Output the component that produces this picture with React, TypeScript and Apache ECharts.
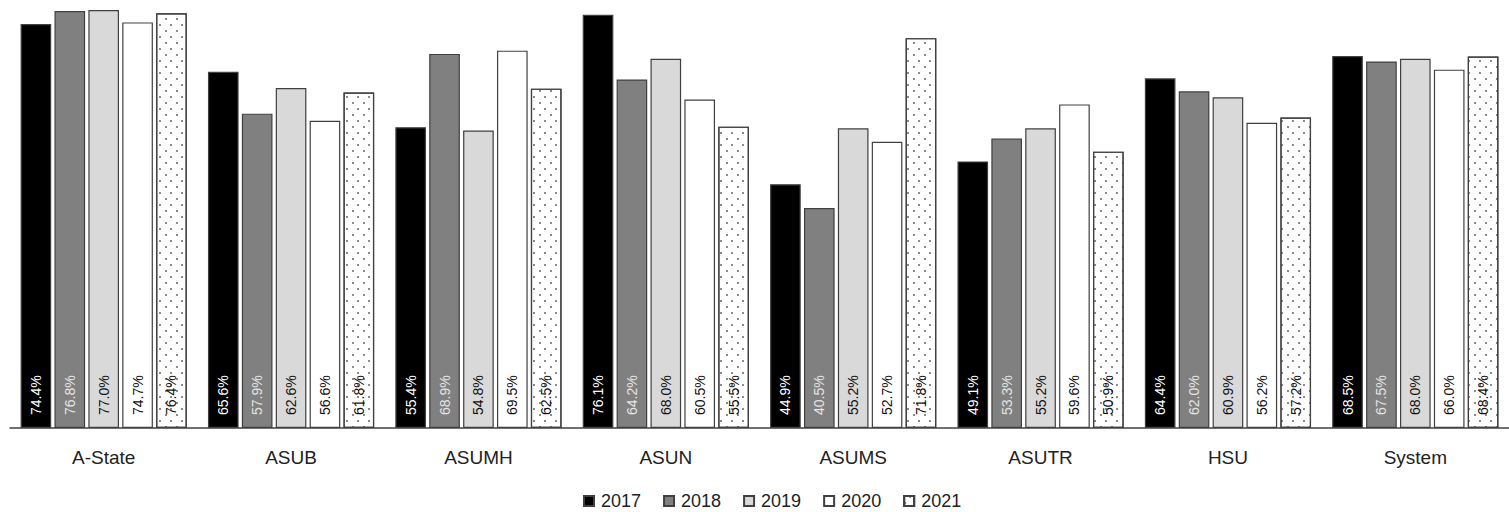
import React, { useEffect, useRef } from "react";
import * as echarts from "echarts";

const categories = ["A-State", "ASUB", "ASUMH", "ASUN", "ASUMS", "ASUTR", "HSU", "System"];
const years = ["2017", "2018", "2019", "2020", "2021"];
const v2017 = [74.4, 65.6, 55.4, 76.1, 44.9, 49.1, 64.4, 68.5];
const v2018 = [76.8, 57.9, 68.9, 64.2, 40.5, 53.3, 62.0, 67.5];
const v2019 = [77.0, 62.6, 54.8, 68.0, 55.2, 55.2, 60.9, 68.0];
const v2020 = [74.7, 56.6, 69.5, 60.5, 52.7, 59.6, 56.2, 66.0];
const v2021 = [76.4, 61.8, 62.5, 55.5, 71.8, 50.9, 57.2, 68.4];

const FONT = "Liberation Sans";

export default function App() {
  const ref = useRef<HTMLDivElement>(null);
  useEffect(() => {
    if (!ref.current) return;
    const chart = echarts.init(ref.current, undefined, { renderer: "svg" });
    const values = [v2017, v2018, v2019, v2020, v2021];
    const fills = ["#000000", "#808080", "#d9d9d9", "#ffffff", "#ffffff"];
    const labelColors = ["#ffffff", "#e4e4e4", "#111111", "#111111", "#111111"];
    const series = years.map((y, i) => ({
      name: y,
      type: "bar",
      data: values[i],
      barGap: "10.6%",
      barCategoryGap: "11.3%",
      itemStyle: {
        color: fills[i],
        borderColor: "#404040",
        borderWidth: 1.2,
        ...(i === 4
          ? {
              decal: {
                symbol: "rect",
                symbolSize: 0.7,
                color: "#222222",
                backgroundColor: "#ffffff",
                dashArrayX: [
                  [2, 9],
                  [0, 5, 2, 4],
                ],
                dashArrayY: [2, 4],
                rotation: 0,
              },
            }
          : {}),
      },
      label: {
        show: true,
        position: "insideBottom",
        distance: 13,
        rotate: 90,
        align: "left",
        verticalAlign: "middle",
        color: labelColors[i],
        fontFamily: FONT,
        fontSize: 14,
        formatter: (p: any) => Number(p.value).toFixed(1) + "%",
      },
    }));
    chart.setOption({
      animation: false,
      backgroundColor: "#ffffff",
      grid: { left: 10, top: 4.5, width: 1517.6, height: 423.5 },
      xAxis: {
        type: "category",
        data: categories,
        axisLine: { show: true, lineStyle: { color: "#404040", width: 1.5 } },
        axisTick: { show: false },
        axisLabel: { color: "#222222", fontFamily: FONT, fontSize: 19, margin: 20 },
      },
      yAxis: {
        type: "value",
        min: 0,
        max: 78,
        show: false,
        splitLine: { show: false },
      },
      legend: {
        data: years,
        left: 578,
        top: 487,
        itemWidth: 10,
        itemHeight: 10,
        itemGap: 22,
        icon: "rect",
        textStyle: {
          fontFamily: FONT,
          fontSize: 18,
          lineHeight: 18,
          color: "#222222",
          padding: [0, 0, 0, 2],
        },
      },
      series,
    });
    return () => chart.dispose();
  }, []);
  return (
    <div
      ref={ref}
      style={{ position: "fixed", left: 0, top: 0, width: 1509, height: 512 }}
    />
  );
}
